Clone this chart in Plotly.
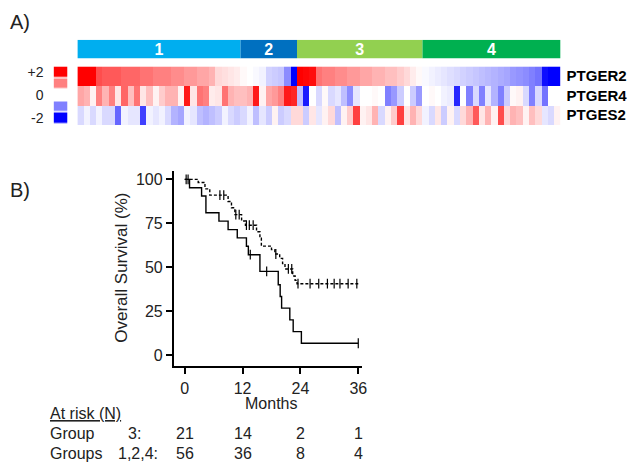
import numpy as np
import plotly.graph_objects as go

W, H = 635, 471
FONT = "Liberation Sans, Arial, sans-serif"

# ---------------- data ----------------
group_names = ["1", "2", "3", "4"]
group_sizes = [26, 9, 20, 22]
group_colors = ["#00aeef", "#0070c0", "#92d050", "#00b050"]

genes = ["PTGER2", "PTGER4", "PTGES2"]

ptger2 = [2.0, 2.0, 2.0, 1.4, 1.3, 1.3, 1.3, 1.2, 1.2, 1.2, 1.1, 1.1, 1.0, 1.0, 1.0, 0.9,
          0.9, 0.8, 0.8, 0.7, 0.7, 0.6, 0.3, 0.25, 0.2, 0.15,
          0.05, 0.0, -0.05, -0.1, -0.35, -0.4, -0.45, -0.9, -2.0,
          2.0, 1.95, 1.9, 1.1, 1.0, 1.0, 0.9, 0.9, 0.8, 0.8, 0.7, 0.7, 0.6, 0.6, 0.5, 0.5,
          0.4, 0.3, 0.15, 0.05,
          -0.05, -0.1, -0.15, -0.2, -0.25, -0.3, -0.35, -0.4, -0.45, -0.5, -0.55, -0.6,
          -0.65, -0.7, -0.8, -0.85, -0.9, -1.0, -1.1, -1.9, -2.0, -2.0]

ptger4 = [0.7, 0.6, 0.1, 1.0, 0.6, 1.0, 0.2, 1.2, 0.5, 1.1, 0.2, 0.5, 0.1, 0.4, 0.6, 0.6,
          0.1, 1.8, 0.2, 1.1, 1.0, 0.15, 0.2, 1.1, 0.6, 0.5,
          0.5, 0.6, 1.8, 0.1, 0.7, 0.8, 1.0, 1.8, 1.7,
          -0.5, -1.8, 0.0, -0.3, 0.05, -0.3, -0.2, -0.5, -0.9, -0.2, 0.0, 0.0, 0.05, 0.0,
          -1.0, -0.8, -0.4, 0.0, -0.4, -0.8,
          0.0, 0.05, 0.0, -0.1, -0.15, -1.7, 0.0, -1.0, -0.3, -1.0, -0.2, -0.6, -1.0,
          -0.4, 0.05, 0.1, -0.3, -1.0, -0.3, -1.1, 0.0, 0.0]

ptges2 = [-0.3, -0.1, -0.3, -0.1, -0.3, -0.3, -1.2, -0.1, -0.2, -0.2, -1.5, -0.1, -0.2,
          -0.1, -0.3, -0.6, -0.7, -0.1, -0.2, -0.5, -0.6, -0.5, -0.4, -0.1, -0.3, -0.4,
          -0.3, -0.1, -0.5, -0.2, -0.4, 0.1, -0.4, -0.3, 0.3,
          0.3, -0.4, 0.2, -0.2, 0.1, 0.3, -0.5, 0.1, 0.4, 1.5, 0.1, 0.2, 0.6, -0.3, 0.1,
          0.4, 1.5, 0.2, 0.6, 0.3,
          -0.1, -0.3, 0.2, -0.4, 0.1, -0.3, 0.3, 0.6, 1.3, 0.2, 0.6, 0.1, 1.4, 0.3, 0.6,
          0.5, 0.1, 0.5, 0.3, -0.2, -0.3, 0.1]

scale_vals = [2, 1, 0, -1, -2]
scale_labels = {2: "+2", 0: "0", -2: "-2"}

# Kaplan-Meier (months, % survival)
g3_t = [0, 1.0, 3.5, 4.4, 7.1, 9.0, 10.9, 12.8, 13.2, 15.6, 19.4, 19.8, 20.1, 21.8, 22.5, 24.2, 36.0]
g3_s = [100, 95.2, 90.5, 81.0, 76.2, 71.4, 66.7, 61.9, 57.1, 47.6, 40.0, 33.3, 26.7, 20.0, 13.3, 6.7, 6.7]
g3_cens_t = [13.6, 17.0, 36.0]
g3_cens_s = [57.1, 47.6, 6.7]

g124_t = [0, 2.8, 4.2, 5.2, 9.0, 9.7, 10.4, 11.8, 12.6, 14.9, 15.6, 15.9, 18.0, 18.7,
          19.7, 20.3, 20.8, 22.4, 22.9, 23.3, 36.0]
g124_s = [100, 98.2, 94.6, 91.0, 87.4, 83.8, 79.9, 76.3, 73.9, 70.2, 66.5, 62.0, 60.0,
          57.5, 55.0, 52.0, 49.0, 45.0, 42.5, 40.6, 40.6]
g124_cens_t = [0.3, 0.7, 7.3, 8.1, 10.6, 11.3, 12.8, 13.4, 14.2, 18.9, 21.5, 22.2,
               23.5, 26.0, 27.8, 29.6, 31.0, 32.2, 33.9, 35.7]
g124_cens_s = [100, 100, 91.0, 91.0, 79.9, 79.9, 73.9, 73.9, 73.9, 57.5, 49.0, 49.0,
               40.6, 40.6, 40.6, 40.6, 40.6, 40.6, 40.6, 40.6]

risk_months = [0, 12, 24, 36]
risk_g3 = [21, 14, 2, 1]
risk_g124 = [56, 36, 8, 4]


def px_x(p):
    return p / W


def px_y(p):
    return 1 - p / H


n_cols = sum(group_sizes)
cols = list(range(n_cols))
colorscale = [[0, "#0000ff"], [0.5, "#ffffff"], [1, "#ff0000"]]
TXT = "#222"

fig = go.Figure()

# heatmap
fig.add_trace(go.Heatmap(
    z=[ptger2, ptger4, ptges2], x=cols, y=[0, 1, 2],
    colorscale=colorscale, zmin=-2, zmax=2, showscale=False,
    xaxis="x", yaxis="y", hoverinfo="skip"))

# group bar
starts = np.cumsum([0] + group_sizes[:-1]) - 0.5
fig.add_trace(go.Bar(
    x=group_sizes, y=[0] * 4, base=starts, orientation="h", width=1,
    marker=dict(color=group_colors, line=dict(width=0)),
    text=group_names, textposition="inside", insidetextanchor="middle", textangle=0,
    textfont=dict(color="white", size=16, family=FONT, weight="bold"),
    xaxis="x2", yaxis="y2", hoverinfo="skip", showlegend=False))

# colour key
fig.add_trace(go.Heatmap(
    z=[[v] for v in scale_vals], y=scale_vals, x=[0],
    colorscale=colorscale, zmin=-2, zmax=2, showscale=False, ygap=1.5,
    xaxis="x3", yaxis="y3", hoverinfo="skip"))

# KM curves
fig.add_trace(go.Scatter(x=g124_t, y=g124_s, mode="lines", line_shape="hv",
                         line=dict(color="black", width=1.4, dash="3px,2px"),
                         xaxis="x4", yaxis="y4", showlegend=False, hoverinfo="skip"))
fig.add_trace(go.Scatter(x=g3_t, y=g3_s, mode="lines", line_shape="hv",
                         line=dict(color="black", width=1.4),
                         xaxis="x4", yaxis="y4", showlegend=False, hoverinfo="skip"))
fig.add_trace(go.Scatter(x=g124_cens_t + g3_cens_t, y=g124_cens_s + g3_cens_s, mode="markers",
                         marker=dict(symbol="line-ns-open", size=7, color="black",
                                     line=dict(color="black", width=1.2)),
                         xaxis="x4", yaxis="y4", showlegend=False, hoverinfo="skip"))

hm_dom = [px_x(78), px_x(565)]
layout = dict(
    width=W, height=H, margin=dict(l=0, r=0, t=0, b=0),
    paper_bgcolor="white", plot_bgcolor="white",
    font=dict(family=FONT, color="black"),
    showlegend=False,
    uniformtext=dict(minsize=16, mode="show"),
    xaxis=dict(domain=hm_dom, range=[-0.5, n_cols - 0.5], visible=False),
    yaxis=dict(domain=[px_y(124), px_y(65)], range=[2.5, -0.5], side="right",
               tickvals=[0, 1, 2], ticktext=["<b>%s</b>" % g for g in genes],
               tickfont=dict(size=15, family=FONT), showgrid=False, zeroline=False,
               ticks="", showline=False, anchor="x", ticklabelstandoff=5),
    xaxis2=dict(domain=hm_dom, range=[-0.5, n_cols - 0.5], visible=False, anchor="y2"),
    yaxis2=dict(domain=[px_y(57), px_y(38)], range=[-0.5, 0.5], visible=False, anchor="x2"),
    xaxis3=dict(domain=[px_x(54), px_x(68)], range=[-0.5, 0.5], visible=False, anchor="y3"),
    yaxis3=dict(domain=[px_y(123), px_y(65)], range=[-2.5, 2.5], anchor="x3",
                tickvals=list(scale_labels.keys()), ticktext=list(scale_labels.values()),
                tickfont=dict(size=14, family=FONT, color=TXT), showgrid=False, zeroline=False,
                ticks="", showline=False, ticklabelstandoff=9),
    xaxis4=dict(domain=[px_x(175), px_x(365)], range=[-2.3, 36.8], anchor="y4",
                tickvals=risk_months, showline=True, linecolor="black", linewidth=1.5,
                ticks="outside", ticklen=6, tickwidth=1.5, tickcolor="black",
                showgrid=False, zeroline=False, ticklabelstandoff=1,
                tickfont=dict(size=16, family=FONT, color=TXT)),
    yaxis4=dict(domain=[px_y(367), px_y(170)], range=[-6.2, 105], anchor="x4",
                tickvals=[0, 25, 50, 75, 100], showline=True, linecolor="black", linewidth=1.5,
                ticks="outside", ticklen=6, tickwidth=1.5, tickcolor="black",
                showgrid=False, zeroline=False, tickfont=dict(size=16, family=FONT, color=TXT)),
)
fig.update_layout(**layout)

ann = []
ann.append(dict(text="A)", x=px_x(8), y=px_y(20), xref="paper", yref="paper",
                xanchor="left", yanchor="middle", showarrow=False, font=dict(size=20, color=TXT)))
ann.append(dict(text="B)", x=px_x(8), y=px_y(190), xref="paper", yref="paper",
                xanchor="left", yanchor="middle", showarrow=False, font=dict(size=20, color=TXT)))
ann.append(dict(text="Overall Survival (%)", x=px_x(123), y=px_y(268), xref="paper", yref="paper",
                xanchor="center", yanchor="middle", textangle=-90, showarrow=False,
                font=dict(size=17, color=TXT)))
ann.append(dict(text="Months", x=18, y=px_y(405), xref="x4", yref="paper",
                xanchor="center", yanchor="middle", showarrow=False, font=dict(size=16, color=TXT)))
ann.append(dict(text="<u>At risk (N)</u>", x=px_x(48), y=px_y(415), xref="paper", yref="paper",
                xanchor="left", yanchor="middle", showarrow=False, font=dict(size=16, color=TXT)))
for lab, xx, yy in [("Group", 48, 435), ("3:", 127, 435), ("Groups", 48, 455), ("1,2,4:", 117, 455)]:
    ann.append(dict(text=lab, x=px_x(xx), y=px_y(yy), xref="paper", yref="paper",
                    xanchor="left", yanchor="middle", showarrow=False, font=dict(size=16, color=TXT)))
for m, a, b in zip(risk_months, risk_g3, risk_g124):
    ann.append(dict(text=str(a), x=m, y=px_y(435), xref="x4", yref="paper", xanchor="center",
                    yanchor="middle", showarrow=False, font=dict(size=16, color=TXT)))
    ann.append(dict(text=str(b), x=m, y=px_y(455), xref="x4", yref="paper", xanchor="center",
                    yanchor="middle", showarrow=False, font=dict(size=16, color=TXT)))
fig.update_layout(annotations=ann)

fig.write_html("out.html", config={"displayModeBar": False},
               post_script="document.body.style.margin='0';document.body.style.padding='0';"
                           "document.body.style.overflow='hidden';")
